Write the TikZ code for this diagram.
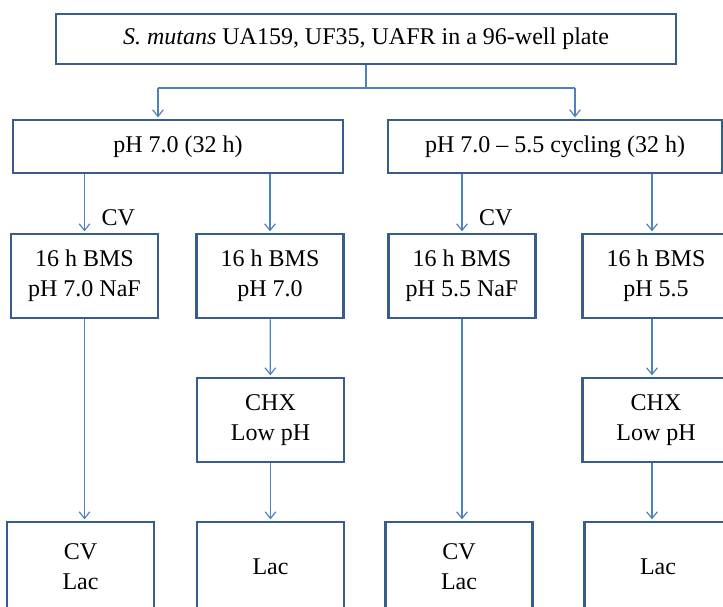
\documentclass[tikz,border=0pt]{standalone}
\usepackage{fontspec}
\setmainfont{Liberation Serif}
\usetikzlibrary{arrows.meta,positioning}
\definecolor{frame}{RGB}{56,93,138}
\definecolor{wire}{RGB}{79,129,189}
\tikzset{
  >={Straight Barb[length=5pt,width=8pt]},
  box/.style={draw=frame,line width=1.9pt,fill=white,align=center,
    font=\fontsize{18}{22.5}\selectfont,inner sep=0pt,
    minimum width=#1,minimum height=63pt},
  box/.default=110pt,
  flow/.style={->,draw=wire,line width=0.9pt,shorten >=1pt},
  wire line/.style={draw=wire,line width=0.9pt},
  tag/.style={font=\fontsize{18}{22.5}\selectfont,right=9pt},
}
\begin{document}
\begin{tikzpicture}[x=0.75pt,y=-0.75pt]
  \clip (0,0) rectangle (723,606);
  % start and the two regimes
  \node[box=465pt,minimum height=37.5pt] (plate) at (366,39)
    {\textit{S. mutans} UA159, UF35, UAFR in a 96-well plate};
  \node[box=247.5pt,minimum height=39.75pt] (neutral) at (178,146.5) {pH 7.0 (32 h)};
  \node[box=250.5pt,minimum height=39.75pt] (cycling) at (555,146.5) {pH 7.0 -- 5.5 cycling (32 h)};
  % treatments
  \node[box] (naf7) at (84.5,276) {16 h BMS\\pH 7.0 NaF};
  \node[box] (bms7) at (270,276) {16 h BMS\\pH 7.0};
  \node[box] (naf55) at (462,276) {16 h BMS\\pH 5.5 NaF};
  \node[box] (bms55) at (656,276) {16 h BMS\\pH 5.5};
  \node[box] (chx7) at (270.5,420) {CHX\\Low pH};
  \node[box] (chx55) at (656,420) {CHX\\Low pH};
  % read-outs
  \node[box,minimum height=67.5pt] (out1) at (80.5,567) {CV\\Lac};
  \node[box,minimum height=67.5pt] (out2) at (270.5,567) {Lac};
  \node[box,minimum height=67.5pt] (out3) at (459,567) {CV\\Lac};
  \node[box,minimum height=67.5pt] (out4) at (658,567) {Lac};

  \coordinate (split) at (366,88);
  \coordinate (jl) at (158,88);
  \coordinate (jr) at (575,88);
  \draw[wire line] (plate.south) -- (split) (jl) -- (jr);
  \draw[flow] (jl) -- (jl |- neutral.north);
  \draw[flow] (jr) -- (jr |- cycling.north);

  \draw[flow] (neutral.south -| naf7) -- node[tag,pos=0.75]{CV} (naf7.north);
  \draw[flow] (neutral.south -| bms7) -- (bms7.north);
  \draw[flow] (cycling.south -| naf55) -- node[tag,pos=0.75]{CV} (naf55.north);
  \draw[flow] ([xshift=-3pt]cycling.south -| bms55) -- ([xshift=-3pt]bms55.north);

  \draw[flow] (bms7) -- (chx7);
  \draw[flow] ([xshift=-3pt]bms55.south) -- ([xshift=-3pt]chx55.north);
  \draw[flow] (naf7.south) -- (naf7.south |- out1.north);
  \draw[flow] (chx7.south) -- (chx7.south |- out2.north);
  \draw[flow] (naf55.south) -- (naf55.south |- out3.north);
  \draw[flow] ([xshift=-3pt]chx55.south) -- ([xshift=-3pt]chx55.south |- out4.north);
\end{tikzpicture}
\end{document}
